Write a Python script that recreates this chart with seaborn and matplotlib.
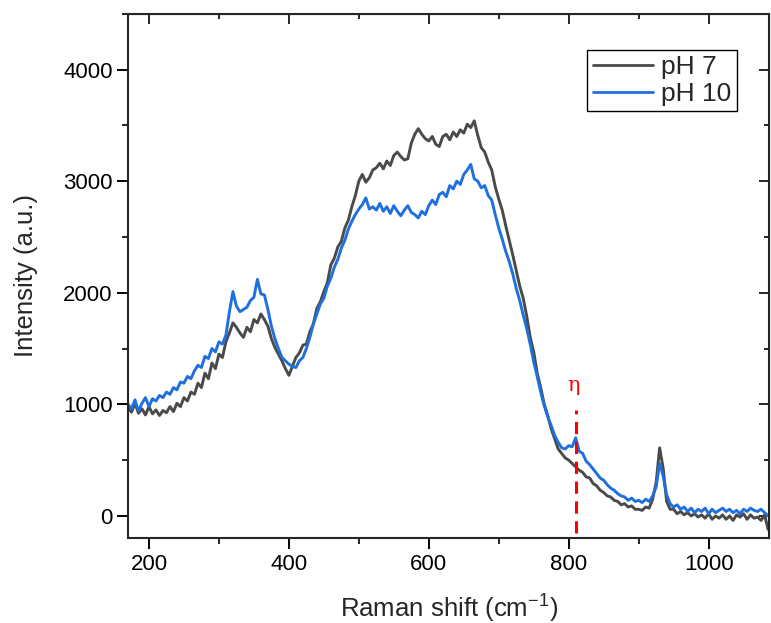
import numpy as np
import pandas as pd
import seaborn as sns
import matplotlib.pyplot as plt
from matplotlib.ticker import MultipleLocator

# Raman shift axis, 5 cm-1 step (170 ... 1085)
shift = np.arange(170, 1090, 5)

# pH 7 intensities
ph7 = [
    975, 930, 1010, 920, 960, 905, 980, 915, 950, 900,        # 170-215
    945, 925, 980, 935, 1010, 980, 1060, 1030, 1110, 1090,    # 220-265
    1190, 1150, 1280, 1230, 1370, 1320, 1450, 1420, 1560, 1640,  # 270-315
    1730, 1690, 1640, 1600, 1690, 1650, 1760, 1730, 1810, 1760,  # 320-365
    1700, 1590, 1510, 1450, 1390, 1320, 1260, 1340, 1420, 1460,  # 370-415
    1530, 1540, 1650, 1720, 1860, 1920, 2010, 2090, 2250, 2310,  # 420-465
    2410, 2460, 2580, 2650, 2770, 2870, 3000, 3060, 2990, 3030,  # 470-515
    3100, 3120, 3160, 3110, 3180, 3140, 3230, 3260, 3220, 3190,  # 520-565
    3200, 3340, 3420, 3470, 3420, 3380, 3360, 3400, 3330, 3310,  # 570-615
    3400, 3420, 3370, 3440, 3400, 3460, 3430, 3510, 3480, 3540,  # 620-665
    3410, 3300, 3260, 3170, 3100, 2950, 2840, 2740, 2600, 2470,  # 670-715
    2340, 2200, 2060, 1950, 1790, 1600, 1470, 1280, 1150, 1000,  # 720-765
    900, 780, 690, 600, 560, 520, 500, 470, 440, 410,          # 770-815
    390, 350, 340, 290, 270, 230, 210, 180, 170, 140,          # 820-865
    130, 100, 110, 80, 90, 60, 60, 50, 80, 70,                 # 870-915
    150, 300, 610, 430, 130, 60, 60, 20, 40, 10,               # 920-965
    30, 0, 20, -10, 10, -20, 20, -30, 0, -20,                  # 970-1015
    10, -30, 0, -40, 10, -10, 20, -30, 10, -20,                # 1020-1065
    -10, -40, 10, -120,                                        # 1070-1085
]

# pH 10 intensities
ph10 = [
    1000, 960, 1040, 940, 1010, 1060, 980, 1050, 1030, 1080,  # 170-215
    1060, 1110, 1090, 1150, 1130, 1200, 1190, 1250, 1230, 1300,  # 220-265
    1350, 1330, 1430, 1410, 1500, 1470, 1560, 1540, 1620, 1830,  # 270-315
    2010, 1880, 1830, 1850, 1870, 1930, 1960, 2120, 1990, 1980,  # 320-365
    1850, 1700, 1590, 1500, 1420, 1390, 1360, 1340, 1330, 1390,  # 370-415
    1420, 1500, 1600, 1720, 1810, 1900, 1950, 2060, 2130, 2230,  # 420-465
    2300, 2400, 2470, 2570, 2640, 2700, 2750, 2790, 2850, 2750,  # 470-515
    2770, 2740, 2800, 2730, 2770, 2710, 2780, 2730, 2690, 2740,  # 520-565
    2780, 2720, 2700, 2670, 2730, 2700, 2780, 2830, 2790, 2880,  # 570-615
    2900, 2860, 2960, 2930, 3000, 2970, 3060, 3100, 3150, 3020,  # 620-665
    3000, 2940, 2960, 2870, 2830, 2700, 2580, 2480, 2370, 2280,  # 670-715
    2170, 2040, 1930, 1800, 1680, 1540, 1380, 1250, 1110, 990,   # 720-765
    890, 810, 720, 660, 610, 600, 630, 620, 700, 580,          # 770-815
    560, 490, 460, 420, 380, 340, 320, 280, 250, 230,          # 820-865
    200, 180, 170, 140, 160, 130, 140, 120, 150, 130,          # 870-915
    180, 260, 470, 360, 190, 110, 80, 100, 60, 80,             # 920-965
    40, 70, 30, 60, 40, 70, 20, 60, 30, 50,                    # 970-1015
    70, 40, 60, 30, 50, 20, 60, 40, 70, 50,                    # 1020-1065
    40, 60, 30, 0,                                             # 1070-1085
]

samples = ['pH 7', 'pH 10']
colors = ['#4a4a4a', '#1f6fde']
eta_pos = 810

df = pd.DataFrame({
    'shift': np.concatenate([shift, shift]),
    'intensity': np.concatenate([ph7, ph10]),
    'sample': np.repeat(samples, len(shift)),
})

sns.set_style('ticks')
plt.rcParams['font.family'] = ['Liberation Sans', 'DejaVu Sans']
plt.rcParams['mathtext.fontset'] = 'custom'
plt.rcParams['mathtext.rm'] = 'Liberation Sans'

fig = plt.figure(figsize=(7.71, 6.23), dpi=100)
ax = fig.add_axes([0.166, 0.136, 0.832, 0.842])

sns.lineplot(data=df, x='shift', y='intensity', hue='sample',
             palette=dict(zip(samples, colors)), linewidth=2.1, ax=ax)

# eta marker
ax.plot([eta_pos, eta_pos], [-150, 950], color='red', lw=2.2, ls=(0, (4, 2.5)))
ax.text(eta_pos - 3, 1170, '\u03b7', color='red', fontsize=15,
        family=['DejaVu Serif'], ha='center', va='center')

ax.set_xlim(170, 1087)
ax.set_ylim(-200, 4500)
ax.xaxis.set_major_locator(MultipleLocator(200))
ax.xaxis.set_minor_locator(MultipleLocator(100))
ax.yaxis.set_major_locator(MultipleLocator(1000))
ax.yaxis.set_minor_locator(MultipleLocator(500))
ax.tick_params(which='major', direction='out', length=8, width=1.4, labelsize=16,
               colors='black', pad=3)
ax.tick_params(which='minor', direction='out', length=4, width=1.4)
for s in ax.spines.values():
    s.set_linewidth(1.5)
    s.set_visible(True)

# inward ticks on top and right
top = ax.secondary_xaxis('top')
top.xaxis.set_major_locator(MultipleLocator(200))
top.xaxis.set_minor_locator(MultipleLocator(100))
top.tick_params(which='major', direction='in', length=7, width=1.4, labeltop=False)
top.tick_params(which='minor', direction='in', length=3.5, width=1.4)
right = ax.secondary_yaxis('right')
right.yaxis.set_major_locator(MultipleLocator(1000))
right.yaxis.set_minor_locator(MultipleLocator(500))
right.tick_params(which='major', direction='in', length=7, width=1.4, labelright=False)
right.tick_params(which='minor', direction='in', length=3.5, width=1.4)

ax.set_xlabel('Raman shift (cm$^{-1}$)', fontsize=18.5)
ax.set_ylabel('Intensity (a.u.)', fontsize=18.5)
ax.xaxis.set_label_coords(0.5, -0.1)
ax.yaxis.set_label_coords(-0.14, 0.5)

leg = ax.legend(loc='upper right', bbox_to_anchor=(0.949, 0.931), fontsize=19,
                frameon=True, fancybox=False, edgecolor='black', framealpha=1,
                handlelength=2.3, handletextpad=0.3, borderpad=0.2,
                labelspacing=0.1, borderaxespad=0)
leg.get_frame().set_linewidth(1.0)
for line in leg.get_lines():
    line.set_linewidth(2)

fig.savefig('out.png', dpi=100)
